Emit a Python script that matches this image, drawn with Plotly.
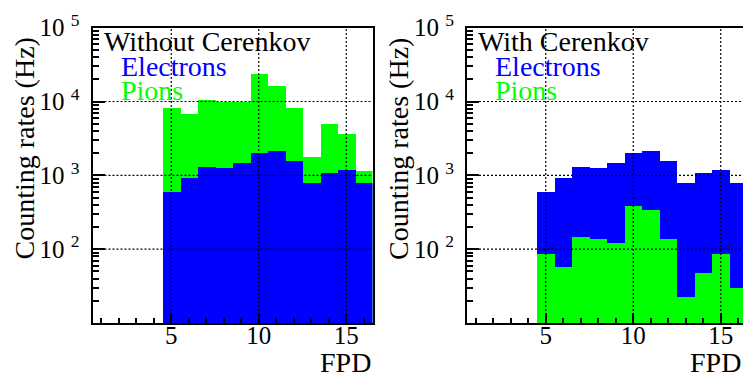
import plotly.graph_objects as go

# ---- data ----
fpd = list(range(1, 17))
electrons = [0, 0, 0, 0, 603, 933, 1290, 1260, 1506, 2057, 2170, 1585, 789, 1091, 1210, 789]
pions_without_cerenkov = [0, 0, 0, 0, 8300, 6750, 10450, 9800, 9900, 23500, 16300, 8130, 1780, 5040, 3610, 1140]
pions_with_cerenkov = [0, 0, 0, 0, 86, 58, 148, 140, 121, 389, 339, 137, 23, 48, 86, 30]

x_tick_vals = [5, 10, 15]
x_tick_text = ["5", "10", "15"]
y_tick_vals = [100, 1000, 10000, 100000]
y_tick_text = ["10&nbsp;<sup>2</sup>", "10&nbsp;<sup>3</sup>", "10&nbsp;<sup>4</sup>", "10&nbsp;<sup>5</sup>"]
panel_titles = ["Without Cerenkov", "With Cerenkov"]
x_title = "FPD"
y_title = "Counting rates (Hz)"

W, H = 743, 373
FONT = "Liberation Serif"
GREEN = "#00ff00"
BLUE = "#0000ff"


def nz(v):
    return [x if x > 0 else None for x in v]


def px(p):
    return p / W


def py(p):
    return 1 - p / H


fig = go.Figure()

panels = [
    dict(xa="x", ya="y", order=[("Pions", pions_without_cerenkov, GREEN), ("Electrons", electrons, BLUE)]),
    dict(xa="x2", ya="y2", order=[("Electrons", electrons, BLUE), ("Pions", pions_with_cerenkov, GREEN)]),
]

for p in panels:
    for name, vals, col in p["order"]:
        fig.add_trace(go.Bar(x=fpd, y=nz(vals), width=1.0, name=name,
                             marker=dict(color=col, line=dict(width=0)),
                             xaxis=p["xa"], yaxis=p["ya"], showlegend=False))

# dotted grid drawn on top of the histograms (as in ROOT)
x_lo, x_hi = 0.5, 16.5
y_lo, y_hi = 10, 100000
for p in panels:
    for xv in x_tick_vals:
        fig.add_trace(go.Scatter(x=[xv, xv], y=[y_lo, y_hi], mode="lines",
                                 line=dict(color="black", width=1.2, dash="2px,2px"),
                                 xaxis=p["xa"], yaxis=p["ya"], showlegend=False, hoverinfo="skip"))
    for yv in y_tick_vals[:-1]:
        fig.add_trace(go.Scatter(x=[x_lo, x_hi], y=[yv, yv], mode="lines",
                                 line=dict(color="black", width=1.2, dash="2px,2px"),
                                 xaxis=p["xa"], yaxis=p["ya"], showlegend=False, hoverinfo="skip"))

ydom = [py(323), py(27.7)]
x_domains = [[px(92.5), px(372.5)], [px(467), 1.0]]
x_ranges = [[0.5, 16.5], [0.5, 0.5 + (743 - 467) / 17.5]]

minor_y = [m * 10 ** e for e in range(1, 5) for m in range(2, 10)]

for i, (xd, xr) in enumerate(zip(x_domains, x_ranges)):
    sx = "" if i == 0 else str(i + 1)
    fig.update_layout(**{
        "xaxis" + sx: dict(
            domain=xd, range=xr, anchor="y" + sx, showgrid=False, zeroline=False, automargin=False,
            showline=True, linecolor="black", linewidth=2, mirror=True,
            ticks="inside", ticklen=10, tickwidth=1.5, tickcolor="black",
            tickmode="array", tickvals=x_tick_vals, ticktext=x_tick_text,
            tickfont=dict(family=FONT, size=25, color="black"), ticklabelstandoff=-11,
            minor=dict(ticks="inside", ticklen=5, tickwidth=1.5, tickcolor="black",
                       dtick=1, tick0=0, showgrid=False),
            layer="above traces", fixedrange=True,
        ),
        "yaxis" + sx: dict(
            domain=ydom, type="log", range=[1, 5], anchor="x" + sx, showgrid=False, zeroline=False,
            automargin=False,
            showline=True, linecolor="black", linewidth=2, mirror=True,
            ticks="inside", ticklen=12, tickwidth=1.5, tickcolor="black",
            tickmode="array", tickvals=y_tick_vals, ticktext=y_tick_text,
            tickfont=dict(family=FONT, size=25, color="black"), ticklabelstandoff=6,
            minor=dict(ticks="inside", ticklen=6, tickwidth=1.5, tickcolor="black",
                       tickmode="array", tickvals=minor_y, showgrid=False),
            layer="above traces", fixedrange=True,
        ),
    })

annotations = []
frame_left = [92.5, 467]
frame_right = [372.5, 743]
for i in range(2):
    fl = frame_left[i]
    annotations.append(dict(text=panel_titles[i], x=px(fl + 9), y=py(42), xanchor="left", yanchor="middle",
                            xref="paper", yref="paper", showarrow=False,
                            font=dict(family=FONT, size=28, color="black")))
    annotations.append(dict(text="Electrons", x=px(fl + 26), y=py(66), xanchor="left", yanchor="middle",
                            xref="paper", yref="paper", showarrow=False,
                            font=dict(family=FONT, size=28, color=BLUE)))
    annotations.append(dict(text="Pions", x=px(fl + 26), y=py(91), xanchor="left", yanchor="middle",
                            xref="paper", yref="paper", showarrow=False,
                            font=dict(family=FONT, size=28, color=GREEN)))
    annotations.append(dict(text=x_title, x=px(frame_right[i]), y=py(362), xanchor="right", yanchor="middle",
                            xref="paper", yref="paper", showarrow=False,
                            font=dict(family=FONT, size=28, color="black")))
    annotations.append(dict(text=y_title, x=px(fl - 69), y=py(36), xanchor="center", yanchor="top",
                            textangle=-90, xref="paper", yref="paper", showarrow=False,
                            font=dict(family=FONT, size=28, color="black")))

fig.update_layout(
    width=W, height=H, margin=dict(l=0, r=0, t=0, b=0, autoexpand=False),
    paper_bgcolor="white", plot_bgcolor="white",
    barmode="overlay", bargap=0, showlegend=False,
    annotations=annotations,
)

fig.write_html("out.html")
